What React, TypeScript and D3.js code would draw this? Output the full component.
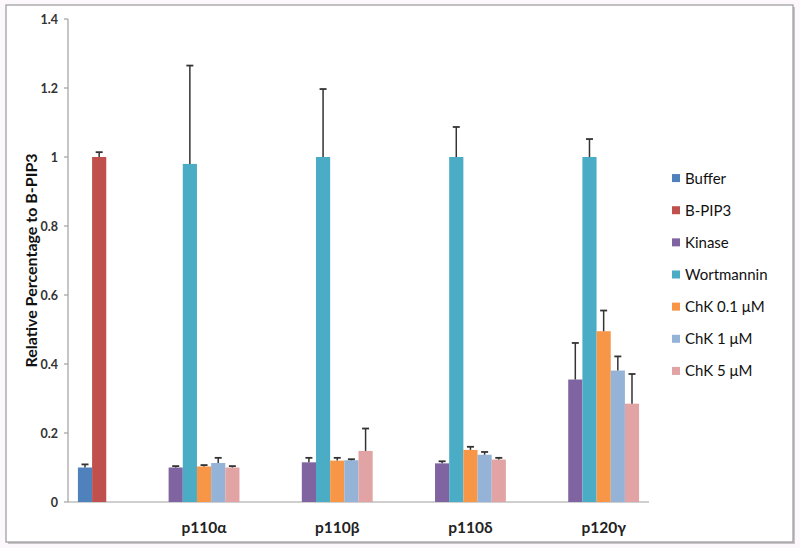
import React from 'react';
import { scaleLinear, scaleBand } from 'd3';

const groups = ['', 'p110α', 'p110β', 'p110δ', 'p120γ'];
const seriesNames = ['Buffer', 'B-PIP3', 'Kinase', 'Wortmannin', 'ChK 0.1 μM', 'ChK 1 μM', 'ChK 5 μM'];
const seriesColors = ['#4F81BD', '#C0504D', '#8064A2', '#4BACC6', '#F79646', '#95B3D7', '#E2A3A4'];

// which series appear in each group
const groupSeries = [
  ['Buffer', 'B-PIP3'],
  ['Kinase', 'Wortmannin', 'ChK 0.1 μM', 'ChK 1 μM', 'ChK 5 μM'],
  ['Kinase', 'Wortmannin', 'ChK 0.1 μM', 'ChK 1 μM', 'ChK 5 μM'],
  ['Kinase', 'Wortmannin', 'ChK 0.1 μM', 'ChK 1 μM', 'ChK 5 μM'],
  ['Kinase', 'Wortmannin', 'ChK 0.1 μM', 'ChK 1 μM', 'ChK 5 μM'],
];
const groupValues = [
  [0.1, 1.0],
  [0.1, 0.98, 0.103, 0.113, 0.1],
  [0.115, 1.0, 0.12, 0.121, 0.148],
  [0.112, 1.0, 0.151, 0.137, 0.123],
  [0.355, 1.0, 0.495, 0.381, 0.285],
];
const groupErrors = [
  [0.009, 0.014],
  [0.004, 0.285, 0.004, 0.015, 0.004],
  [0.013, 0.197, 0.008, 0.003, 0.065],
  [0.006, 0.087, 0.009, 0.008, 0.005],
  [0.106, 0.052, 0.06, 0.041, 0.086],
];
const yTicks = [0, 0.2, 0.4, 0.6, 0.8, 1, 1.2, 1.4];

const W = 800;
const H = 548;
const left = 68;
const right = 649;
const top = 19;
const bottom = 502;
const GAP = 4.4; // gap between clusters, in bar widths
const PAD = 0.7;

export default function App() {
  const y = scaleLinear().domain([0, 1.4]).range([bottom, top]);

  // lay clusters out in bar-width units
  const starts: number[] = [];
  let cur = PAD;
  groupSeries.forEach((s, i) => {
    starts.push(cur);
    cur += s.length + (i < groupSeries.length - 1 ? GAP : 0);
  });
  const total = cur + PAD;
  const x = scaleLinear().domain([0, total]).range([left, right]);
  const colorOf = (name: string) => seriesColors[seriesNames.indexOf(name)];

  const fmt = (v: number) => (v === 0 || v === 1 ? String(v) : String(+v.toFixed(1)));

  const legendY = scaleBand().domain(seriesNames).range([162, 387]);

  return (
    <svg width={W} height={H} style={{ position: 'absolute', left: 0, top: 0 }}>
      <rect x={0} y={0} width={W} height={H} fill="#fcf8fc" />
      <rect x={8} y={7} width={787} height={537} fill="#c8c4c8" />
      <rect x={6} y={5} width={787} height={537} fill="#ffffff" stroke="#9a9a9a" strokeWidth={1.2} />

      {/* y axis */}
      <line x1={left} x2={left} y1={top} y2={bottom} stroke="#a0a0a0" strokeWidth={1.2} />
      {yTicks.map(t => (
        <g key={t}>
          <line x1={left - 4} x2={left} y1={y(t)} y2={y(t)} stroke="#a0a0a0" strokeWidth={1.2} />
          <text x={left - 10} y={y(t) + 4.5} textAnchor="end" fontFamily="Lato, sans-serif" fontSize={12.5} fontWeight="bold" fill="#333">
            {fmt(t)}
          </text>
        </g>
      ))}
      <line x1={left} x2={right} y1={bottom} y2={bottom} stroke="#a0a0a0" strokeWidth={1.2} />

      {/* bars */}
      {groupSeries.map((s, gi) => {
        const inner = scaleBand().domain(s).range([x(starts[gi]), x(starts[gi] + s.length)]);
        return (
          <g key={gi}>
            {s.map((name, si) => {
              const v = groupValues[gi][si];
              const e = groupErrors[gi][si];
              const bx = inner(name) as number;
              const cx = bx + inner.bandwidth() / 2;
              return (
                <g key={name}>
                  <rect x={bx} y={y(v)} width={inner.bandwidth()} height={bottom - y(v)} fill={colorOf(name)} />
                  <line x1={cx} x2={cx} y1={y(v)} y2={y(v + e)} stroke="#333" strokeWidth={1.5} />
                  <line x1={cx - 3.5} x2={cx + 3.5} y1={y(v + e)} y2={y(v + e)} stroke="#333" strokeWidth={1.8} />
                </g>
              );
            })}
            <text
              x={(x(starts[gi]) + x(starts[gi] + s.length)) / 2}
              y={533}
              textAnchor="middle"
              fontFamily="Lato, sans-serif"
              fontSize={15.5}
              fontWeight="bold"
              fill="#222"
            >
              {groups[gi]}
            </text>
          </g>
        );
      })}

      {/* y title */}
      <text
        transform={`translate(37, ${(top + bottom) / 2}) rotate(-90)`}
        textAnchor="middle"
        fontFamily="Lato, sans-serif"
        fontSize={16}
        fontWeight="bold"
        fill="#111"
      >
        Relative Percentage to B-PIP3
      </text>

      {/* legend */}
      {seriesNames.map((name, i) => {
        const ly = (legendY(name) as number) + legendY.bandwidth() / 2;
        return (
          <g key={name}>
            <rect x={672} y={ly - 4} width={8} height={8} fill={seriesColors[i]} />
            <text x={685} y={ly + 5.5} fontFamily="Lato, sans-serif" fontSize={15} fill="#111">
              {name}
            </text>
          </g>
        );
      })}
    </svg>
  );
}
